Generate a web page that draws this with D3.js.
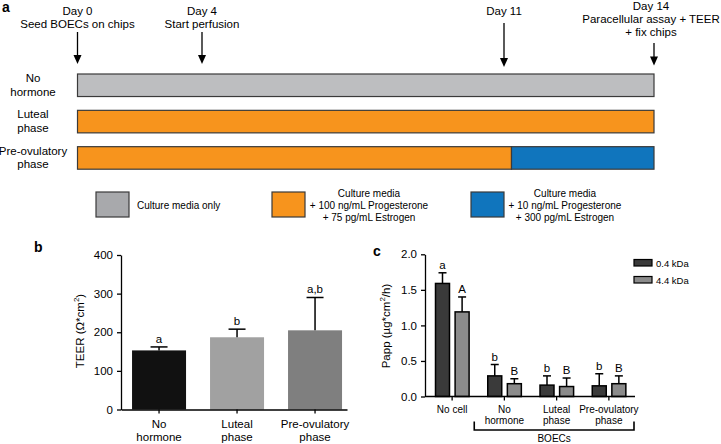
<!DOCTYPE html>
<html><head><meta charset="utf-8">
<script src="https://cdn.jsdelivr.net/npm/d3@7"></script>
<style>
html,body{margin:0;padding:0;background:#fff;}
svg{display:block;font-family:"Liberation Sans",Arial,Helvetica,sans-serif;}
</style></head>
<body><svg id="c" width="721" height="444"></svg>
<script>
// ---------- Panel a data ----------
const milestoneDays = [0, 4, 11, 14];
const milestoneLabels = [["Day 0","Seed BOECs on chips"],["Day 4","Start perfusion"],["Day 11"],["Day 14","Paracellular assay + TEER","+ fix chips"]];
const rowNames = [["No","hormone"],["Luteal","phase"],["Pre-ovulatory","phase"]];
const rowKeys = ["none","luteal","preov"];
const segStart = [[0],[0],[0,11.15]];
const segEnd = [[14],[14],[11.15,14]];
const segMedia = [["only"],["luteal"],["luteal","preov"]];
const mediaKeys = ["only","luteal","preov"];
const mediaLabels = [["Culture media only"],["Culture media","+ 100 ng/mL Progesterone","+ 75 pg/mL Estrogen"],["Culture media","+ 10 ng/mL Progesterone","+ 300 pg/mL Estrogen"]];
// ---------- Panel b data ----------
const teerCats = ["No hormone","Luteal phase","Pre-ovulatory phase"];
const teerCatLines = [["No","hormone"],["Luteal","phase"],["Pre-ovulatory","phase"]];
const teerMean = [153, 187, 205];
const teerErr = [9, 21, 85];
const teerLetters = ["a","b","a,b"];
const teerTicks = [0,100,200,300,400];
// ---------- Panel c data ----------
const pappGroups = ["No cell","No hormone","Luteal phase","Pre-ovulatory phase"];
const pappGroupLines = [["No cell"],["No","hormone"],["Luteal","phase"],["Pre-ovulatory","phase"]];
const pappSeries = ["0.4 kDa","4.4 kDa"];
const papp04 = [1.59, 0.29, 0.16, 0.15];
const papp04Err = [0.15, 0.16, 0.13, 0.17];
const papp44 = [1.19, 0.18, 0.14, 0.18];
const papp44Err = [0.21, 0.07, 0.12, 0.11];
const letters04 = ["a","b","b","b"];
const letters44 = ["A","B","B","B"];
const pappTicks = [0,0.5,1.0,1.5,2.0];

const svg = d3.select("#c");
const FS = 11.5;

// ================= Panel a =================
const tx = d3.scaleLinear().domain(milestoneDays).range([77.5, 202, 504, 654]);
const ty = d3.scaleBand().domain(rowKeys).range([74, 169.2]).paddingInner(0.38).paddingOuter(0);
const mediaColor = d3.scaleOrdinal().domain(mediaKeys).range(["#bdbec0","#f7941d","#1075bd"]);
const legendColor = d3.scaleOrdinal().domain(mediaKeys).range(["#a8a9ac","#f7941d","#1075bd"]);

svg.append("text").attr("x",2).attr("y",12).attr("font-size",14).attr("font-weight","bold").text("a");

const ga = svg.append("g");
rowKeys.forEach((k,i)=>{
  segStart[i].forEach((s,j)=>{
    ga.append("rect").attr("x",tx(s)).attr("y",ty(k))
      .attr("width",tx(segEnd[i][j])-tx(s)).attr("height",ty.bandwidth())
      .attr("fill",mediaColor(segMedia[i][j])).attr("stroke","#3a3a3a").attr("stroke-width",1.2);
  });
  const cy = ty(k)+ty.bandwidth()/2;
  const t = ga.append("text").attr("text-anchor","middle").attr("font-size",FS);
  rowNames[i].forEach((ln,j)=>t.append("tspan").attr("x",33).attr("y",cy-3.3+j*13.6).text(ln));
});

// milestones
const labelTop = [14.7, 14.7, 14.7, 10];
const arrowTop = [32, 32, 23, 43];
const arrowTip = [64, 64, 67, 65.5];
const labelX = [77.5, 202, 504, 651];
milestoneDays.forEach((d,i)=>{
  const x = tx(d);
  const t = ga.append("text").attr("text-anchor","middle").attr("font-size",FS);
  const step = i===3 ? 12.8 : 13.4;
  milestoneLabels[i].forEach((ln,j)=>t.append("tspan").attr("x",labelX[i]).attr("y",labelTop[i]+j*step).text(ln));
  ga.append("line").attr("x1",x).attr("x2",x).attr("y1",arrowTop[i]).attr("y2",arrowTip[i]-6)
    .attr("stroke","#000").attr("stroke-width",1.3);
  ga.append("path").attr("d",`M${x-4},${arrowTip[i]-9}L${x+4},${arrowTip[i]-9}L${x},${arrowTip[i]}Z`).attr("fill","#000");
});

// legend a
const legX = [96, 272, 471];
const legTextX = [137, 369, 565];
mediaKeys.forEach((k,i)=>{
  ga.append("rect").attr("x",legX[i]).attr("y",192).attr("width",33).attr("height",25)
    .attr("fill",legendColor(k)).attr("stroke","#3a3a3a").attr("stroke-width",1.2);
  const t = ga.append("text").attr("font-size",10).attr("text-anchor", i===0?"start":"middle");
  const lines = mediaLabels[i];
  const y0 = lines.length===1 ? 208.5 : 196.5;
  lines.forEach((ln,j)=>t.append("tspan").attr("x",legTextX[i]).attr("y",y0+j*12).text(ln));
});

// ================= Panel b =================
svg.append("text").attr("x",34).attr("y",252).attr("font-size",14).attr("font-weight","bold").text("b");
const xb = d3.scaleBand().domain(teerCats).range([121,347]).paddingInner(0.3077).paddingOuter(0.1026).align(0.69);
const yb = d3.scaleLinear().domain([0,400]).range([409.5,255]);
const bColors = d3.scaleOrdinal().domain(teerCats).range(["#111111","#a1a1a1","#7f7f7f"]);
const gb = svg.append("g");
gb.selectAll("rect.bar").data(teerCats).join("rect").attr("class","bar")
  .attr("x",d=>xb(d)).attr("width",xb.bandwidth())
  .attr("y",(d,i)=>yb(teerMean[i])).attr("height",(d,i)=>yb(0)-yb(teerMean[i]))
  .attr("fill",d=>bColors(d));
teerCats.forEach((c,i)=>{
  const cx = xb(c)+xb.bandwidth()/2;
  const top = yb(teerMean[i]+teerErr[i]);
  gb.append("line").attr("x1",cx).attr("x2",cx).attr("y1",yb(teerMean[i])).attr("y2",top).attr("stroke","#000").attr("stroke-width",1.5);
  gb.append("line").attr("x1",cx-8.5).attr("x2",cx+8.5).attr("y1",top).attr("y2",top).attr("stroke","#000").attr("stroke-width",1.5);
  gb.append("text").attr("x",cx).attr("y",top-4).attr("text-anchor","middle").attr("font-size",FS).text(teerLetters[i]);
  const t = gb.append("text").attr("text-anchor","middle").attr("font-size",FS);
  teerCatLines[i].forEach((ln,j)=>t.append("tspan").attr("x",cx).attr("y",428+j*13.4).text(ln));
});
const yAxisB = gb.append("g").attr("transform","translate(121,0)")
  .call(d3.axisLeft(yb).tickValues(teerTicks).tickSize(4).tickSizeOuter(0).tickPadding(4));
const xAxisB = gb.append("g").attr("transform",`translate(0,${yb(0)})`)
  .call(d3.axisBottom(xb).tickSize(4).tickSizeOuter(0).tickFormat(""));
[yAxisB,xAxisB].forEach(a=>{
  a.select(".domain").attr("stroke","#000").attr("stroke-width",1.3);
  a.selectAll(".tick line").attr("stroke","#000").attr("stroke-width",1.3);
  a.selectAll(".tick text").attr("font-size",FS).attr("font-family",null).attr("fill","#000");
});
const ybl = gb.append("text").attr("transform","translate(84,331) rotate(-90)").attr("text-anchor","middle").attr("font-size",FS);
ybl.append("tspan").text("TEER (Ω*cm");
ybl.append("tspan").attr("font-size",8).attr("dy",-5).text("2");
ybl.append("tspan").attr("dy",5).text(")");

// ================= Panel c =================
svg.append("text").attr("x",373).attr("y",256).attr("font-size",14).attr("font-weight","bold").text("c");
const x0 = d3.scaleBand().domain(pappGroups).range([426,635]).padding(0);
const x1 = d3.scaleBand().domain(pappSeries).range([9.5,43.1]).paddingInner(0.286);
const yc = d3.scaleLinear().domain([0,2]).range([396.5,254.3]);
const cColors = d3.scaleOrdinal().domain(pappSeries).range(["#3a3a3a","#8b8b8b"]);
const gc = svg.append("g");
const seriesVals = [papp04, papp44];
const seriesErr = [papp04Err, papp44Err];
const seriesLetters = [letters04, letters44];
pappSeries.forEach((s,si)=>{
  pappGroups.forEach((g,gi)=>{
    const v = seriesVals[si][gi];
    const x = x0(g)+x1(s);
    const w = x1.bandwidth();
    const cx = x + w/2;
    const top = yc(v + seriesErr[si][gi]);
    gc.append("line").attr("x1",cx).attr("x2",cx).attr("y1",yc(v)).attr("y2",top).attr("stroke","#000").attr("stroke-width",1.5);
    gc.append("line").attr("x1",cx-4).attr("x2",cx+4).attr("y1",top).attr("y2",top).attr("stroke","#000").attr("stroke-width",1.5);
    gc.append("rect").attr("x",x).attr("width",w).attr("y",yc(v)).attr("height",yc(0)-yc(v))
      .attr("fill",cColors(s)).attr("stroke","#000").attr("stroke-width",1.5);
    gc.append("text").attr("x",cx).attr("y",top-3.8).attr("text-anchor","middle").attr("font-size",11.5).text(seriesLetters[si][gi]);
  });
});
const yAxisC = gc.append("g").attr("transform","translate(425,0)")
  .call(d3.axisLeft(yc).tickValues(pappTicks).tickFormat(d3.format(".1f")).tickSize(4).tickSizeOuter(0).tickPadding(4));
const xAxisC = gc.append("g").attr("transform",`translate(0,${yc(0)})`)
  .call(d3.axisBottom(x0).tickSize(4).tickSizeOuter(0).tickFormat(""));
xAxisC.select(".domain").attr("d",`M425,0H635`);
[yAxisC,xAxisC].forEach(a=>{
  a.select(".domain").attr("stroke","#000").attr("stroke-width",1.3);
  a.selectAll(".tick line").attr("stroke","#000").attr("stroke-width",1.3);
  a.selectAll(".tick text").attr("font-size",FS).attr("font-family",null).attr("fill","#000");
});
pappGroups.forEach((g,gi)=>{
  const cx = x0(g)+x0.bandwidth()/2;
  const t = gc.append("text").attr("text-anchor","middle").attr("font-size",10);
  pappGroupLines[gi].forEach((ln,j)=>t.append("tspan").attr("x",cx).attr("y",412.8+j*11.3).text(ln));
});
// BOECs bracket
const bx1 = x0(pappGroups[1])-4, bx2 = x0(pappGroups[3])+x0.bandwidth()-1;
gc.append("path").attr("d",`M${bx1},421.5V430H${bx2}V421.5`).attr("fill","none").attr("stroke","#000").attr("stroke-width",1.6);
gc.append("text").attr("x",(bx1+bx2)/2).attr("y",442).attr("text-anchor","middle").attr("font-size",10).text("BOECs");
// y label
const ycl = gc.append("text").attr("transform","translate(390,326) rotate(-90)").attr("text-anchor","middle").attr("font-size",FS);
ycl.append("tspan").text("Papp (µg*cm");
ycl.append("tspan").attr("font-size",8).attr("dy",-5).text("2");
ycl.append("tspan").attr("dy",5).text("/h)");
// legend c
pappSeries.forEach((s,i)=>{
  gc.append("rect").attr("x",634).attr("y",259.5+i*17).attr("width",18).attr("height",6.5)
    .attr("fill",cColors(s)).attr("stroke","#000").attr("stroke-width",1.2);
  gc.append("text").attr("x",656).attr("y",266.5+i*17).attr("font-size",9.5).text(s);
});
</script></body></html>
